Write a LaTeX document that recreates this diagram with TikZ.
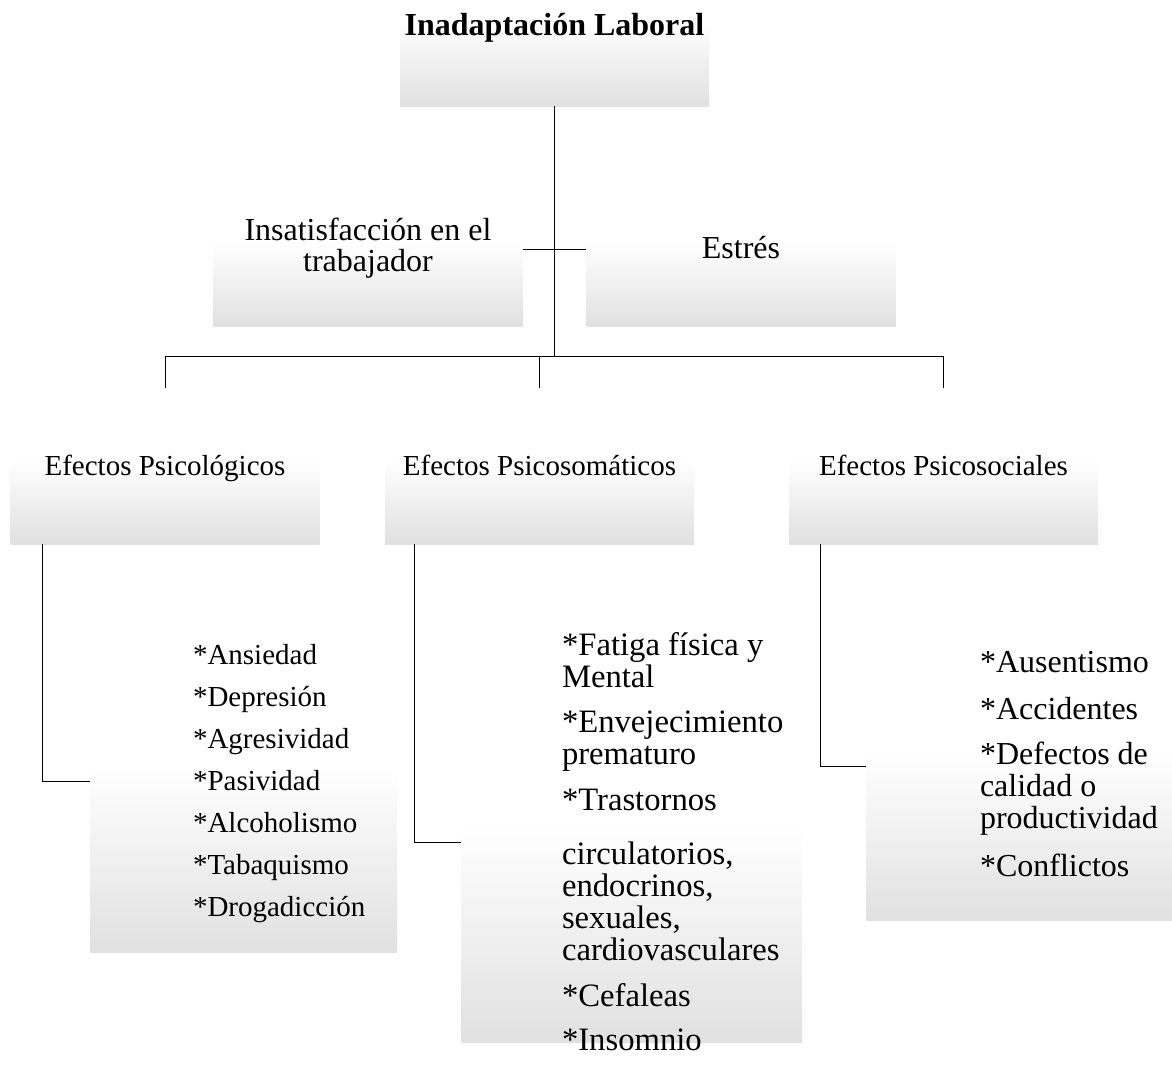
\documentclass[tikz,border=0pt]{standalone}
\usepackage{fontspec}
\setmainfont{Liberation Serif}
\usepackage{tikz}
\usetikzlibrary{positioning}

\pgfdeclareverticalshading{boxfade}{100bp}{color(0bp)=(black!12); color(25bp)=(black!12); color(52bp)=(white); color(75bp)=(white); color(100bp)=(white)}

\tikzset{
  box/.style={shade, shading=boxfade, draw=none, inner sep=0pt, align=center,
    minimum width=231.75pt, minimum height=117pt, font=\fontsize{21.75}{23.5}\selectfont},
  bigbox/.style={box, font=\fontsize{24}{23.25}\selectfont},
  evenline/.style={execute at begin node=\vphantom{Ég}},
  listtxt/.style={inner sep=0pt, align=left, font=\fontsize{21.75}{24}\selectfont},
  conn/.style={draw=black, line width=0.75pt}
}

\begin{document}
\begin{tikzpicture}[x=0.75pt,y=0.75pt,yscale=-1,xscale=1]
\clip (0,0) rectangle (1172,1068);

% Title Box
\node [box, font=\fontsize{24}{26}\selectfont\bfseries] (top) at (554.5,28) {Inadaptación Laboral};
% Second level
\node [bigbox] (insat) at (368,248) {Insatisfacción en el\\trabajador};
\node [bigbox, evenline] (estres) at (741,248) {Estrés};
% Third level
\node [box, evenline] (psico) at (165,466) {Efectos Psicológicos};
\node [box, evenline] (soma) at (539.5,466) {Efectos Psicosomáticos};
\node [box, evenline] (social) at (943.5,466) {Efectos Psicosociales};
% List Boxes
\node [box, minimum width=230.25pt, minimum height=256.5pt] (psilist) at (243.5,781) {};
\node [box, minimum width=255.75pt, minimum height=300pt] (somalist) at (631.5,842) {};
\node [box, minimum width=232.5pt, minimum height=231pt] (soclist) at (1021,766) {};

% List Texts
\node [listtxt, right=77.25pt of psilist.west, yshift=-2.25pt] (psitext) {%
{*}Ansiedad\\[7.5pt]{*}Depresión\\[7.5pt]{*}Agresividad\\[7.5pt]{*}Pasividad\\[7.5pt]%
{*}Alcoholismo\\[7.5pt]{*}Tabaquismo\\[7.5pt]{*}Drogadicción};
\node [listtxt, font=\fontsize{24.5}{24}\selectfont, right=75.75pt of somalist.west] (somatext) {%
{*}Fatiga física y\\Mental\\[9.75pt]{*}Envejecimiento\\prematuro\\[10.5pt]{*}Trastornos\\[16.5pt]%
circulatorios,\\endocrinos,\\sexuales,\\cardiovasculares\\[10.5pt]{*}Cefaleas\\[9pt]{*}Insomnio};
\node [listtxt, font=\fontsize{24}{24}\selectfont, right=85.5pt of soclist.west, yshift=1.5pt] (soctext) {%
{*}Ausentismo\\[11.25pt]{*}Accidentes\\[9.75pt]{*}Defectos de\\calidad o\\productividad\\[12pt]{*}Conflictos};

% Connectors
\coordinate (bus) at (554.5,357);
\draw [conn] (top.south) -- (bus);
\draw [conn] ([yshift=0.75pt]insat.east) -- ([yshift=0.75pt]estres.west);
\draw [conn] (psico.north) -- ++(0,-31) -| (social.north);
\draw [conn] (soma.north) -- ++(0,-31);
\draw [conn] ([xshift=24pt]psico.south west) |- (psilist.west);
\draw [conn] ([xshift=22.5pt]soma.south west) |- (somalist.west);
\draw [conn] ([xshift=24pt]social.south west) |- (soclist.west);

\end{tikzpicture}
\end{document}
